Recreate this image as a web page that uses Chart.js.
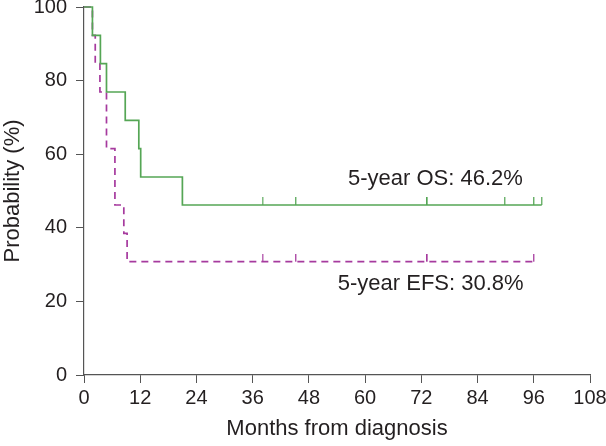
<!DOCTYPE html>
<html>
<head>
<meta charset="utf-8">
<script src="https://cdn.jsdelivr.net/npm/chart.js@4"></script>
<style>
  html, body { margin: 0; padding: 0; background: #fff; }
  #wrap { width: 606px; height: 446px; }
</style>
</head>
<body>
<div id="wrap"><canvas id="myChart" width="606" height="446"></canvas></div>
<script>
// Data

const osTimes = [0, 1.8, 3.5, 4.8, 8.8, 11.7, 12.1, 21, 97.7];
const osSurv = [100, 92.3, 84.6, 76.9, 69.2, 61.5, 53.8, 46.2, 46.2];
const osCensored = [38.1, 45.2, 73.3, 89.8, 96.0, 97.7];

const efsTimes = [0, 1.8, 2.4, 3.4, 4.8, 6.6, 8.5, 9.2, 96.0];
const efsSurv = [100, 92.3, 84.6, 76.9, 61.5, 46.2, 38.5, 30.8, 30.8];
const efsCensored = [38.1, 45.2, 73.3, 96.0];

const notes = [
    ["5-year OS: 46.2%", 75, 53.3],
    ["5-year EFS: 30.8%", 74, 24.7]
];

const xTicks = [0, 12, 24, 36, 48, 60, 72, 84, 96, 108];

const green = "#55a655";
const purple = "#a63a9e";
const ink = "#231f20";
const fontName = "'Liberation Sans', Arial, sans-serif";

// Setup

function pairs(xs, ys) {
    return xs.map((x, i) => ({ x: x, y: ys[i] }));
}

// level of the curve at time t, used to sit the censor ticks on the line
function levelAt(xs, ys, t) {
    let s = ys[0];
    for (let i = 0; i < xs.length; i++) {
        if (xs[i] <= t) s = ys[i];
    }
    return s;
}

// a half tick that only sticks up from the line
function tickMark(color) {
    const c = document.createElement("canvas");
    c.width = 2;
    c.height = 16;
    const g = c.getContext("2d");
    g.fillStyle = color;
    g.fillRect(0, 0, 1.4, 8);
    return c;
}

const data = {
    datasets: [
        {
            label: "OS",
            data: pairs(osTimes, osSurv),
            stepped: "before",
            borderColor: green,
            borderWidth: 1.7,
            pointRadius: 0,
            fill: false,
            clip: 6
        },
        {
            label: "EFS",
            data: pairs(efsTimes, efsSurv),
            stepped: "before",
            borderColor: purple,
            borderWidth: 1.7,
            borderDash: [7, 5],
            pointRadius: 0,
            fill: false,
            clip: 6
        },
        {
            label: "OS censored",
            type: "scatter",
            data: osCensored.map(t => ({ x: t, y: levelAt(osTimes, osSurv, t) })),
            pointStyle: tickMark(green),
            clip: 10
        },
        {
            label: "EFS censored",
            type: "scatter",
            data: efsCensored.map(t => ({ x: t, y: levelAt(efsTimes, efsSurv, t) })),
            pointStyle: tickMark(purple),
            clip: 10
        }
    ]
};

const noteText = {
    id: "noteText",
    afterDatasetsDraw(chart) {
        const g = chart.ctx;
        const xs = chart.scales.x, ys = chart.scales.y;
        g.save();
        g.fillStyle = ink;
        g.font = "22px " + fontName;
        g.textAlign = "center";
        g.textBaseline = "middle";
        for (const n of notes) {
            g.fillText(n[0], xs.getPixelForValue(n[1]), ys.getPixelForValue(n[2]));
        }
        g.restore();
    }
};

// Config

const config = {
    type: "line",
    data,
    options: {
        responsive: false,
        animation: false,
        events: [],
        layout: {
            padding: { top: 7, right: 16, left: 0, bottom: 0 }
        },
        plugins: {
            legend: { display: false },
            tooltip: { enabled: false }
        },
        scales: {
            x: {
                type: "linear",
                min: 0,
                max: 108,
                afterBuildTicks: s => { s.ticks = xTicks.map(v => ({ value: v })); },
                afterFit: s => { s.height = 71; s.paddingLeft = 0; s.paddingRight = 0; },
                grid: {
                    drawOnChartArea: false,
                    drawTicks: true,
                    tickLength: 8,
                    color: "#555"
                },
                border: { display: true, color: "#555", width: 1.2 },
                ticks: {
                    color: ink,
                    padding: 3,
                    maxRotation: 0,
                    autoSkip: false,
                    font: { family: fontName, size: 20 }
                },
                title: {
                    display: true,
                    text: "Months from diagnosis",
                    color: ink,
                    padding: { top: 8 },
                    font: { family: fontName, size: 22 }
                }
            },
            y: {
                min: 0,
                max: 100,
                afterFit: s => { s.width = 84; s.paddingTop = 0; s.paddingBottom = 0; },
                grid: {
                    drawOnChartArea: false,
                    drawTicks: true,
                    tickLength: 8,
                    color: "#555"
                },
                border: { display: true, color: "#555", width: 1.2 },
                ticks: {
                    stepSize: 20,
                    color: ink,
                    padding: 9,
                    font: { family: fontName, size: 20 }
                },
                title: {
                    display: true,
                    text: "Probability (%)",
                    color: ink,
                    padding: { top: 0, bottom: 0 },
                    font: { family: fontName, size: 22 }
                }
            }
        }
    },
    plugins: [noteText]
};

// Render init block

const myChart = new Chart(document.getElementById("myChart"), config);
</script>
</body>
</html>
